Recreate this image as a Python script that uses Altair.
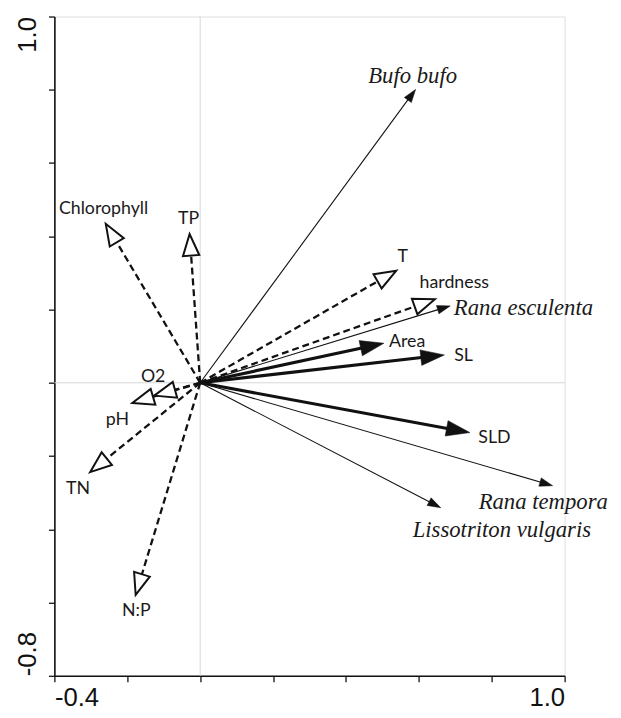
import altair as alt
import pandas as pd
import numpy as np

# ---- data ----
# species (response) arrows: thin solid, small filled heads
sp_names = ["Bufo bufo", "Rana esculenta", "Rana tempora", "Lissotriton vulgaris"]
sp_x = [0.591, 0.686, 0.967, 0.660]
sp_y = [0.801, 0.210, -0.281, -0.341]
sp_lx = [0.583, 0.696, 0.764, 0.583]
sp_ly = [0.838, 0.205, -0.327, -0.401]
sp_align = ["center", "left", "left", "left"]

# significant environmental variables: thick solid, big filled heads
ev_names = ["Area", "SL", "SLD"]
ev_x = [0.504, 0.670, 0.740]
ev_y = [0.108, 0.076, -0.136]
ev_lx = [0.518, 0.697, 0.763]
ev_ly = [0.111, 0.073, -0.151]
ev_align = ["left", "left", "left"]

# other environmental variables: dashed, open heads
en_names = ["T", "hardness", "TP", "Chlorophyll", "O2", "pH", "TN", "N:P"]
en_x = [0.538, 0.644, -0.029, -0.259, -0.126, -0.186, -0.302, -0.177]
en_y = [0.306, 0.228, 0.406, 0.434, -0.035, -0.055, -0.244, -0.579]
en_lx = [0.556, 0.602, -0.032, -0.265, -0.129, -0.227, -0.335, -0.175]
en_ly = [0.343, 0.273, 0.448, 0.475, 0.016, -0.102, -0.291, -0.622]
en_align = ["center", "left", "center", "center", "center", "center", "center", "center"]

x_ticks = [-0.4, -0.2, 0.0, 0.2, 0.4, 0.6, 0.8, 1.0]
y_ticks = [-0.8, -0.6, -0.4, -0.2, 0.0, 0.2, 0.4, 0.6, 0.8, 1.0]

# ---- layout ----
W, H = 517, 668
XD = [-0.4, 1.0]
YD = [-0.8, 1.0]
kx = W / (XD[1] - XD[0])
ky = H / (YD[1] - YD[0])


def frame(names, xs, ys, lxs, lys, aligns, shorten):
    df = pd.DataFrame({"name": names, "x": xs, "y": ys, "lx": lxs, "ly": lys, "align": aligns})
    px = df["x"] * kx
    py = df["y"] * ky
    ln = np.hypot(px, py)
    df["ox"] = 0.0
    df["oy"] = 0.0
    df["ex"] = df["x"] - (px / ln) * shorten / kx
    df["ey"] = df["y"] - (py / ln) * shorten / ky
    df["ang"] = np.degrees(np.arctan2(px, py)) % 360
    return df


sp = frame(sp_names, sp_x, sp_y, sp_lx, sp_ly, sp_align, 6)
ev = frame(ev_names, ev_x, ev_y, ev_lx, ev_ly, ev_align, 12)
en = frame(en_names, en_x, en_y, en_lx, en_ly, en_align, 18)

xs = alt.Scale(domain=XD, nice=False, zero=False)
ys = alt.Scale(domain=YD, nice=False, zero=False)

xaxis = alt.Axis(
    values=x_ticks, format=".1f", title=None, grid=False,
    labelExpr="abs(datum.value + 0.4) < 1e-6 || abs(datum.value - 1) < 1e-6 ? replace(datum.label, '\u2212', '-') : ''",
    labelFlush=True, labelFontSize=26, labelFont="Liberation Sans", labelColor="#111",
    labelPadding=3, tickSize=6, tickColor="#111", tickWidth=1.3,
    domainColor="#111", domainWidth=1.6,
)
yaxis = alt.Axis(
    values=y_ticks, format=".1f", title=None, grid=False,
    labelExpr="abs(datum.value + 0.8) < 1e-6 || abs(datum.value - 1) < 1e-6 ? replace(datum.label, '\u2212', '-') : ''",
    labelAngle=270, labelFlush=False,
    labelAlign={"condition": {"test": "datum.value < 0", "value": "left"}, "value": "right"},
    labelBaseline="bottom",
    labelFontSize=26, labelFont="Liberation Sans", labelColor="#111",
    labelPadding=8, tickSize=6, tickColor="#111", tickWidth=1.3,
    domainColor="#111", domainWidth=1.6,
)

HEAD = "M0,0 L-0.33,1 L0.33,1 Z"
HEAD_OPEN = "M0,0 L-0.38,1 L0.38,1 Z"

base0 = alt.Chart(pd.DataFrame({"v": [0.0]}))
zero_v = base0.mark_rule(color="#d6d6d6", strokeWidth=1).encode(
    x=alt.X("v:Q", scale=xs, axis=xaxis))
zero_h = base0.mark_rule(color="#d6d6d6", strokeWidth=1).encode(
    y=alt.Y("v:Q", scale=ys, axis=yaxis))


def lines(df, width, dash=None):
    kw = dict(color="#111", strokeWidth=width, strokeCap="butt")
    if dash:
        kw["strokeDash"] = dash
    return alt.Chart(df).mark_rule(**kw).encode(
        x=alt.X("ox:Q", scale=xs, axis=xaxis), y=alt.Y("oy:Q", scale=ys, axis=yaxis),
        x2="ex:Q", y2="ey:Q")


def heads(df, size, fill, stroke_w):
    return alt.Chart(df).mark_point(
        shape=HEAD if fill != "white" else HEAD_OPEN, size=size, filled=True,
        fill=fill, stroke="#111", strokeWidth=stroke_w, opacity=1,
        strokeJoin="miter",
    ).encode(
        x=alt.X("x:Q", scale=xs, axis=xaxis), y=alt.Y("y:Q", scale=ys, axis=yaxis),
        angle=alt.Angle("ang:Q", scale=None))


def labels(df, font, size, style):
    layers = []
    for a in ["left", "center", "right"]:
        sub = df[df["align"] == a]
        if len(sub) == 0:
            continue
        layers.append(alt.Chart(sub).mark_text(
            font=font, fontSize=size, fontStyle=style, align=a, baseline="middle",
            color="#1a1a1a").encode(
            x=alt.X("lx:Q", scale=xs, axis=xaxis), y=alt.Y("ly:Q", scale=ys, axis=yaxis),
            text="name:N"))
    return layers


chart = alt.layer(
    zero_v, zero_h,
    lines(sp, 1.1),
    lines(ev, 3.2),
    lines(en, 2.3, [7, 4]),
    heads(sp, 700, "#111", 0.5),
    heads(ev, 2300, "#111", 0.5),
    heads(en, 1900, "white", 2.0),
    *labels(sp, "Liberation Serif", 23, "italic"),
    *labels(ev, "Lato", 18, "normal"),
    *labels(en, "Lato", 18, "normal"),
).properties(
    width=W, height=H,
    autosize=alt.AutoSizeParams(type="none"),
    padding={"left": 47, "top": 4, "right": 49, "bottom": 30},
).configure_view(
    stroke="#111", strokeWidth=1.6,
).configure(background="white")

chart.save("out.html", embed_options={"renderer": "svg", "actions": False})
